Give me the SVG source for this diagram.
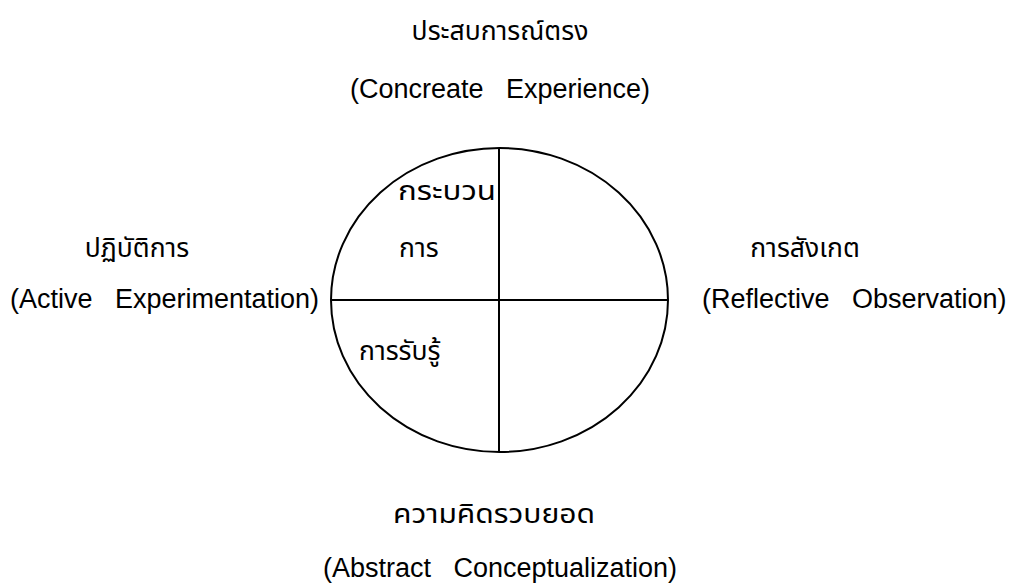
<svg xmlns="http://www.w3.org/2000/svg" width="1016" height="585" viewBox="0 0 1016 585">
<style>
.th{font-family:"Noto Sans Thai","Loma","Garuda","Liberation Sans",sans-serif;font-size:26.5px;fill:#000;font-weight:normal}
.en{font-family:"Liberation Sans",Arial,sans-serif;font-size:27px;fill:#000;white-space:pre}
.ln{stroke:#000;stroke-width:2;fill:none}
</style>
<rect width="1016" height="585" fill="#fff"/>
<g id="circle">
<ellipse class="ln" cx="499.5" cy="300" rx="168.5" ry="152"/>
</g>
<g id="connectors">
<line class="ln" x1="331" y1="300" x2="668" y2="300"/>
<line class="ln" x1="499" y1="148" x2="499" y2="452"/>
</g>
<g id="top">
<text class="th" x="500" y="40" text-anchor="middle">ประสบการณ์ตรง</text>
<text class="en" x="500" y="98" text-anchor="middle" xml:space="preserve">(Concreate   Experience)</text>
</g>
<g id="left">
<text class="th" x="137" y="257" text-anchor="middle">ปฏิบัติการ</text>
<text class="en" x="10" y="308" xml:space="preserve">(Active   Experimentation)</text>
</g>
<g id="right">
<text class="th" x="805" y="257" text-anchor="middle">การสังเกต</text>
<text class="en" x="702" y="308" xml:space="preserve">(Reflective   Observation)</text>
</g>
<g id="bottom">
<text class="th" x="393" y="523" textLength="202" lengthAdjust="spacingAndGlyphs">ความคิดรวบยอด</text>
<text class="en" x="500" y="577" text-anchor="middle" xml:space="preserve">(Abstract   Conceptualization)</text>
</g>
<g id="inner">
<text class="th" x="398" y="200" textLength="98" lengthAdjust="spacingAndGlyphs">กระบวน</text>
<text class="th" x="399" y="257">การ</text>
<text class="th" x="359" y="360">การรับรู้</text>
</g>
</svg>
